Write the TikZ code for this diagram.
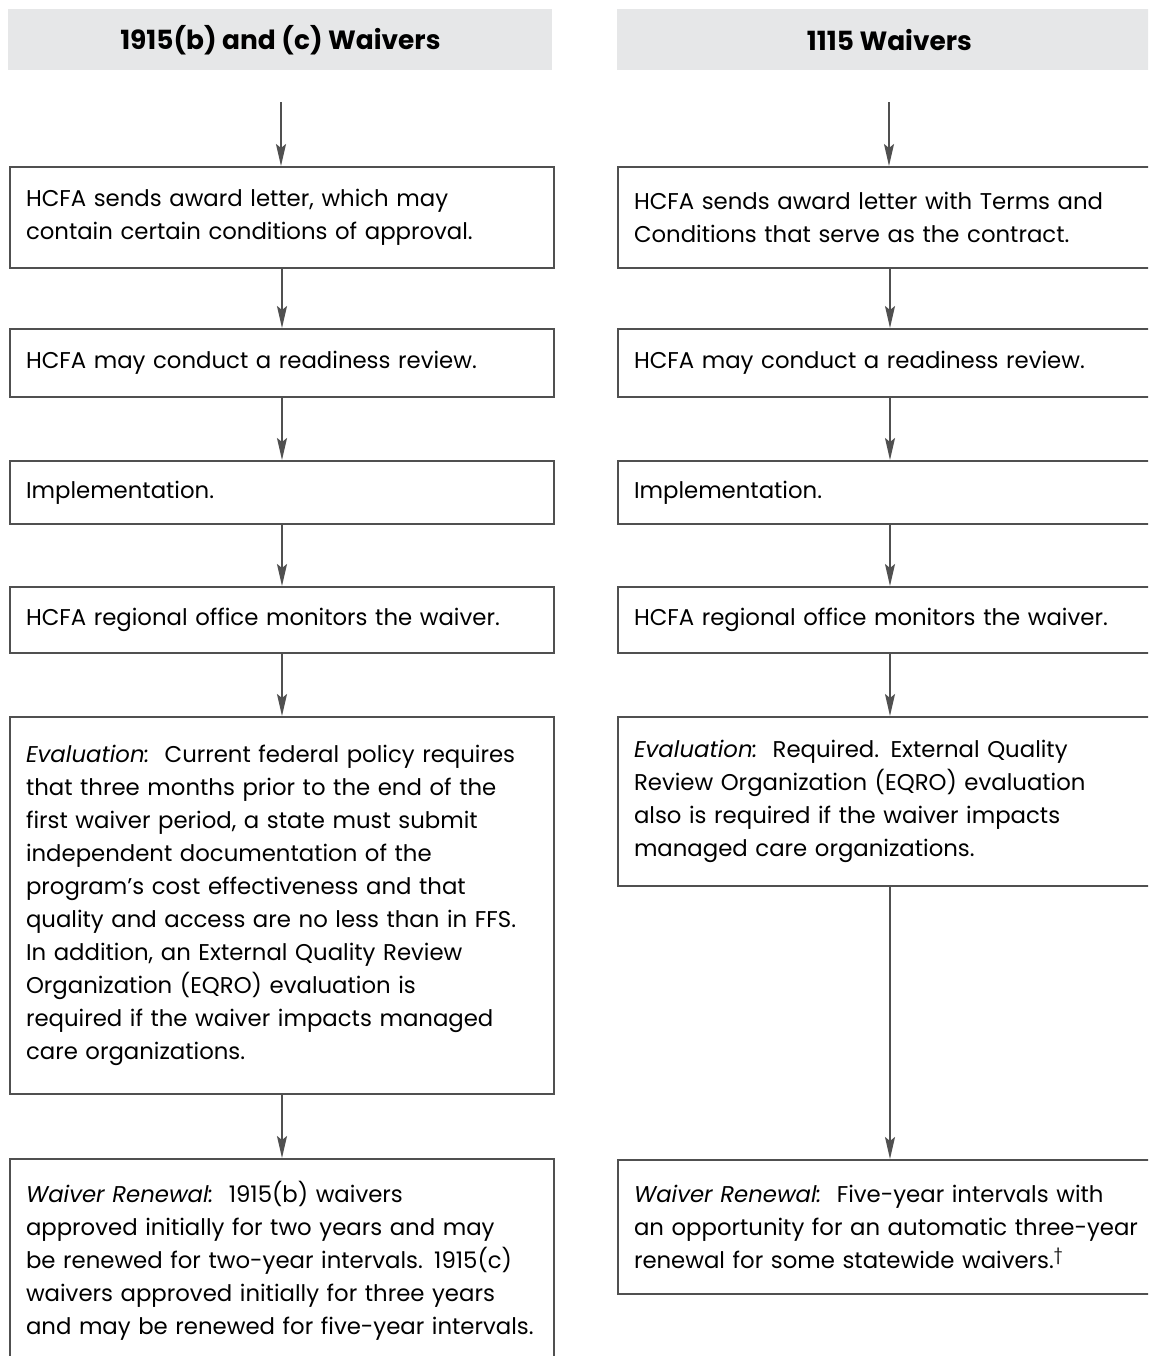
\documentclass[tikz,border=0pt]{standalone}
\usepackage{xcolor}
\usepackage{fontspec}
\setmainfont{Poppins}
\usepackage{tikz}
\usetikzlibrary{arrows.meta,positioning,calc}

\definecolor{headgray}{RGB}{230,231,232}
\definecolor{linegray}{RGB}{80,80,80}

\begin{document}
\begin{tikzpicture}[x=0.5pt,y=-0.5pt,
  head/.style={fill=headgray, anchor=north west, minimum width=272pt, minimum height=30.5pt,
    inner sep=0pt, font=\bfseries\fontsize{13.2}{15}\selectfont},
  box/.style={draw=linegray, line width=1pt, anchor=north west, text width=256pt,
    inner xsep=8pt, inner ysep=9pt, align=left, font=\fontsize{11.4}{16.5}\selectfont},
  flow/.style={draw=linegray, line width=0.9pt, -{Stealth[length=11pt,width=5pt,inset=2pt]}}]

\useasboundingbox (0,0) rectangle (1148,1356);
\clip (0,0) rectangle (1148,1356);

% Headers
\node[head] (hl) at (8,9) {1915(b) and (c) Waivers};
\node[head] (hr) at (617,9) {1115 Waivers};

% Left column
\coordinate (ls) at (281,102);
\node[box, minimum height=50.5pt] (l1) at (9,166) {HCFA sends award letter, which may\\contain certain conditions of approval.};
\node[box, minimum height=34pt] (l2) at (9,328) {HCFA may conduct a readiness review.};
\node[box, minimum height=31.5pt] (l3) at (9,460) {Implementation.};
\node[box, minimum height=33pt] (l4) at (9,586) {HCFA regional office monitors the waiver.};
\node[box, minimum height=188.5pt] (l5) at (9,716) {\textit{Evaluation:}\ \ Current federal policy requires\\that three months prior to the end of the\\first waiver period, a state must submit\\independent documentation of the\\program’s cost effectiveness and that\\quality and access are no less than in FFS.\\In addition, an External Quality Review\\Organization (EQRO) evaluation is\\required if the waiver impacts managed\\care organizations.};
\node[box, minimum height=102pt] (l6) at (9,1158) {\textit{Waiver Renewal:}\ \ 1915(b) waivers\\approved initially for two years and may\\be renewed for two-year intervals. 1915(c)\\waivers approved initially for three years\\and may be renewed for five-year intervals.};

% Right column
\coordinate (rs) at (889,102);
\node[box, minimum height=50.5pt] (r1) at (617,166) {HCFA sends award letter with Terms and\\Conditions that serve as the contract.};
\node[box, minimum height=34pt] (r2) at (617,328) {HCFA may conduct a readiness review.};
\node[box, minimum height=31.5pt] (r3) at (617,460) {Implementation.};
\node[box, minimum height=33pt] (r4) at (617,586) {HCFA regional office monitors the waiver.};
\node[box, minimum height=84.5pt] (r5) at (617,716) {\textit{Evaluation:}\ \ Required. External Quality\\Review Organization (EQRO) evaluation\\also is required if the waiver impacts\\managed care organizations.};
\node[box, minimum height=67pt] (r6) at (617,1159) {\textit{Waiver Renewal:}\ \ Five-year intervals with\\an opportunity for an automatic three-year\\renewal for some statewide waivers.\textsuperscript{\textdagger}};

% Arrows
\draw[flow] (ls) -- (ls |- l1.north);
\draw[flow] (rs) -- (rs |- r1.north);
\foreach \a/\b in {1/2,2/3,3/4,4/5,5/6}{
  \draw[flow] (l\a.south) -- (l\b.north);
  \draw[flow] (r\a.south) -- (r\b.north);
}
\end{tikzpicture}
\end{document}
